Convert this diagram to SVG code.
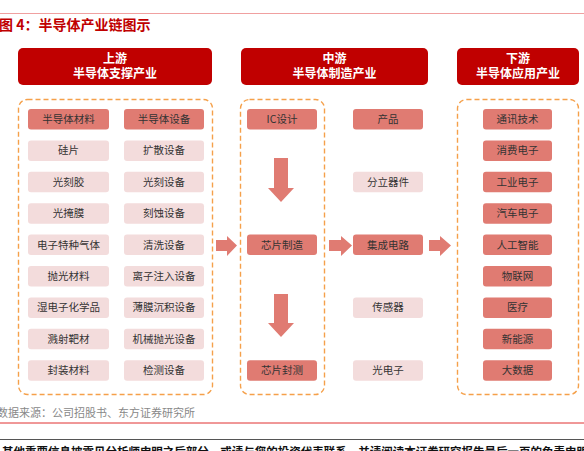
<svg xmlns="http://www.w3.org/2000/svg" width="584" height="451" viewBox="0 0 584 451">
<style>
text{font-family:"Noto Sans CJK SC","Liberation Sans",sans-serif;}
.hdr{fill:#c00000;}
.hdrt{fill:#fff;font-size:12px;font-weight:bold;text-anchor:middle;}
.dash{fill:none;stroke:#f5a04a;stroke-width:1.4;stroke-dasharray:5,3;}
.s{fill:#e07b72;}
.p{fill:#f3dcdc;}
.t{fill:#333;font-size:10.5px;text-anchor:middle;}
.arr{fill:#e07b72;}
</style>
<rect width="584" height="451" fill="#fff"/>
<line x1="0" y1="13.5" x2="584" y2="13.5" stroke="#f0a0a0" stroke-width="1"/>
<text x="-1" y="30" font-size="14" font-weight="bold" fill="#c00000">图 4：半导体产业链图示</text>

<g id="header-up"><rect class="hdr" x="18" y="48" width="194" height="37" rx="5"/><text class="hdrt" x="115" y="63">上游</text><text class="hdrt" x="115" y="78">半导体支撑产业</text></g>
<g id="header-mid"><rect class="hdr" x="241" y="48" width="187" height="37" rx="5"/><text class="hdrt" x="334.5" y="63">中游</text><text class="hdrt" x="334.5" y="78">半导体制造产业</text></g>
<g id="header-down"><rect class="hdr" x="457" y="48" width="122" height="37" rx="5"/><text class="hdrt" x="518" y="63">下游</text><text class="hdrt" x="518" y="78">半导体应用产业</text></g>

<g id="containers">
<rect class="dash" x="18.5" y="99.5" width="194" height="295" rx="9"/>
<rect class="dash" x="240.5" y="99.5" width="84" height="295" rx="9"/>
<rect class="dash" x="457.5" y="99.5" width="121" height="295" rx="9"/>
</g>

<g id="upstream-materials">
<rect class="s" x="28" y="109" width="81" height="20.5" rx="3"/><text class="t" x="68.5" y="123">半导体材料</text>
<rect class="p" x="28" y="140.4" width="81" height="20.5" rx="3"/><text class="t" x="68.5" y="154.4">硅片</text>
<rect class="p" x="28" y="171.8" width="81" height="20.5" rx="3"/><text class="t" x="68.5" y="185.8">光刻胶</text>
<rect class="p" x="28" y="203.2" width="81" height="20.5" rx="3"/><text class="t" x="68.5" y="217.2">光掩膜</text>
<rect class="p" x="28" y="234.6" width="81" height="20.5" rx="3"/><text class="t" x="68.5" y="248.6">电子特种气体</text>
<rect class="p" x="28" y="266" width="81" height="20.5" rx="3"/><text class="t" x="68.5" y="280">抛光材料</text>
<rect class="p" x="28" y="297.4" width="81" height="20.5" rx="3"/><text class="t" x="68.5" y="311.4">湿电子化学品</text>
<rect class="p" x="28" y="328.8" width="81" height="20.5" rx="3"/><text class="t" x="68.5" y="342.8">溅射靶材</text>
<rect class="p" x="28" y="360.2" width="81" height="20.5" rx="3"/><text class="t" x="68.5" y="374.2">封装材料</text>
</g>
<g id="upstream-equipment">
<rect class="s" x="124" y="109" width="80" height="20.5" rx="3"/><text class="t" x="164" y="123">半导体设备</text>
<rect class="p" x="124" y="140.4" width="80" height="20.5" rx="3"/><text class="t" x="164" y="154.4">扩散设备</text>
<rect class="p" x="124" y="171.8" width="80" height="20.5" rx="3"/><text class="t" x="164" y="185.8">光刻设备</text>
<rect class="p" x="124" y="203.2" width="80" height="20.5" rx="3"/><text class="t" x="164" y="217.2">刻蚀设备</text>
<rect class="p" x="124" y="234.6" width="80" height="20.5" rx="3"/><text class="t" x="164" y="248.6">清洗设备</text>
<rect class="p" x="124" y="266" width="80" height="20.5" rx="3"/><text class="t" x="164" y="280">离子注入设备</text>
<rect class="p" x="124" y="297.4" width="80" height="20.5" rx="3"/><text class="t" x="164" y="311.4">薄膜沉积设备</text>
<rect class="p" x="124" y="328.8" width="80" height="20.5" rx="3"/><text class="t" x="164" y="342.8">机械抛光设备</text>
<rect class="p" x="124" y="360.2" width="80" height="20.5" rx="3"/><text class="t" x="164" y="374.2">检测设备</text>
</g>

<g id="midstream-process">
<rect class="s" x="247" y="109" width="70" height="20.5" rx="3"/><text class="t" x="282" y="123">IC设计</text>
<rect class="s" x="247" y="234.6" width="70" height="20.5" rx="3"/><text class="t" x="282" y="248.6">芯片制造</text>
<rect class="s" x="247" y="360.2" width="70" height="20.5" rx="3"/><text class="t" x="282" y="374.2">芯片封测</text>
</g>
<g id="midstream-products">
<rect class="s" x="353" y="109" width="70" height="20.5" rx="3"/><text class="t" x="388" y="123">产品</text>
<rect class="p" x="353" y="171.8" width="70" height="20.5" rx="3"/><text class="t" x="388" y="185.8">分立器件</text>
<rect class="s" x="353" y="234.6" width="70" height="20.5" rx="3"/><text class="t" x="388" y="248.6">集成电路</text>
<rect class="p" x="353" y="297.4" width="70" height="20.5" rx="3"/><text class="t" x="388" y="311.4">传感器</text>
<rect class="p" x="353" y="360.2" width="70" height="20.5" rx="3"/><text class="t" x="388" y="374.2">光电子</text>
</g>

<g id="downstream">
<rect class="s" x="483" y="109" width="69" height="20.5" rx="3"/><text class="t" x="517.5" y="123">通讯技术</text>
<rect class="s" x="483" y="140.4" width="69" height="20.5" rx="3"/><text class="t" x="517.5" y="154.4">消费电子</text>
<rect class="s" x="483" y="171.8" width="69" height="20.5" rx="3"/><text class="t" x="517.5" y="185.8">工业电子</text>
<rect class="s" x="483" y="203.2" width="69" height="20.5" rx="3"/><text class="t" x="517.5" y="217.2">汽车电子</text>
<rect class="s" x="483" y="234.6" width="69" height="20.5" rx="3"/><text class="t" x="517.5" y="248.6">人工智能</text>
<rect class="s" x="483" y="266" width="69" height="20.5" rx="3"/><text class="t" x="517.5" y="280">物联网</text>
<rect class="s" x="483" y="297.4" width="69" height="20.5" rx="3"/><text class="t" x="517.5" y="311.4">医疗</text>
<rect class="s" x="483" y="328.8" width="69" height="20.5" rx="3"/><text class="t" x="517.5" y="342.8">新能源</text>
<rect class="s" x="483" y="360.2" width="69" height="20.5" rx="3"/><text class="t" x="517.5" y="374.2">大数据</text>
</g>

<g id="connectors">
<polygon class="arr" points="274,158 288,158 288,188 294,188 281,202 268,188 274,188"/>
<polygon class="arr" points="274,294 288,294 288,323 294,323 281,337 268,323 274,323"/>
<polygon class="arr" points="216,240 227,240 227,236 237,245.5 227,256 227,251 216,251"/>
<polygon class="arr" points="329,240 341,240 341,236 352,245.5 341,256 341,251 329,251"/>
<polygon class="arr" points="429,240 440,240 440,236 451,245.5 440,256 440,251 429,251"/>
</g>

<text x="-3" y="417" font-size="11" fill="#888">数据来源：公司招股书、东方证券研究所</text>
<line x1="0" y1="423" x2="584" y2="423" stroke="#e03030" stroke-width="1"/>
<line x1="0" y1="439.5" x2="584" y2="439.5" stroke="#555" stroke-width="1.2"/>
<text x="2" y="456" font-size="11.5" font-weight="bold" fill="#111" textLength="586" lengthAdjust="spacingAndGlyphs">其他重要信息披露见分析师申明之后部分，或请与您的投资代表联系，并请阅读本证券研究报告最后一页的免责申明</text>
</svg>
